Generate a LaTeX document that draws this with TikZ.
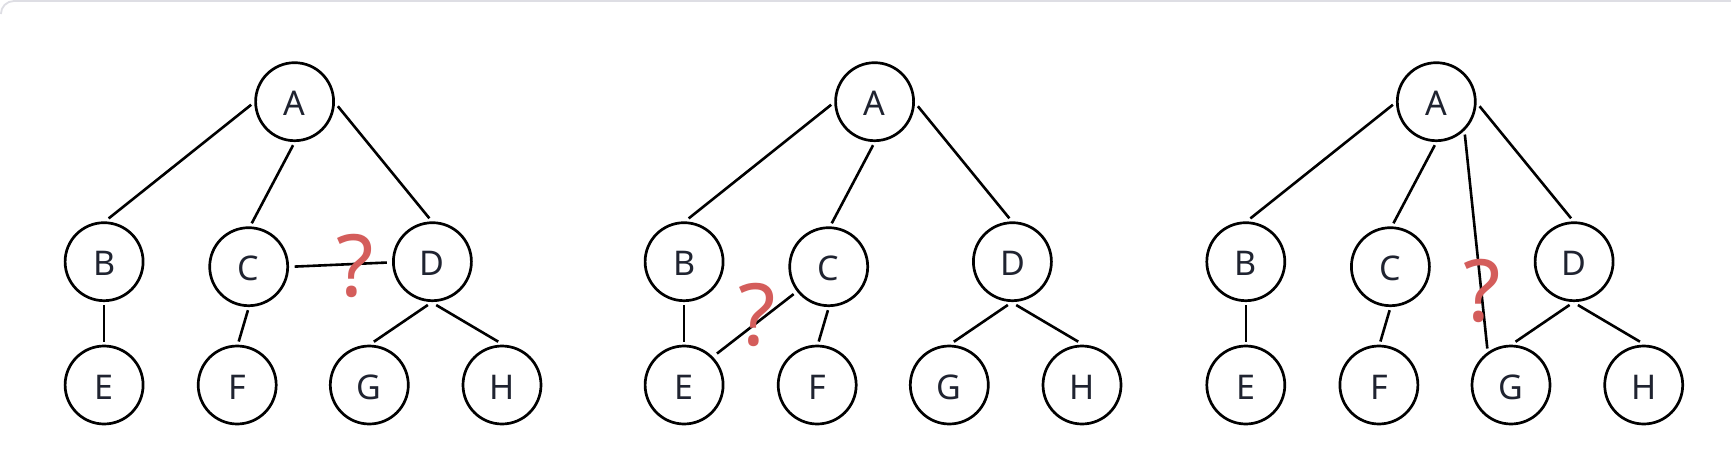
\documentclass[tikz,border=0pt]{standalone}
\usepackage{fontspec}
\setmainfont{Noto Sans}
\definecolor{ink}{HTML}{1F2330}
\definecolor{qred}{HTML}{D45D5B}
\definecolor{framegray}{HTML}{DEDEE4}
\newcommand{\treebase}{%
  \node[vert] (A) at (294.6,101.7) {A};
  \node[vert] (B) at (104.1,261.7) {B};
  \node[vert] (C) at (248.7,266.7) {C};
  \node[vert] (D) at (432.4,261.7) {D};
  \node[vert] (E) at (104.1,385) {E};
  \node[vert] (F) at (237.2,385) {F};
  \node[vert] (G) at (369.3,385) {G};
  \node[vert] (H) at (502,385) {H};
  \draw[edge] (A.184) -- (B.84);
  \draw[edge] (A.268) -- (C.86);
  \draw[edge] (A.354) -- (D.94);
  \draw[edge] (B.270) -- (E.90);
  \draw[edge] (C.269) -- (F.88);
  \draw[edge] (D.264) -- (G.84);
  \draw[edge] (D.275) -- (H.95);
}
\begin{document}
\begin{tikzpicture}[x=1pt,y=-1pt,
  vert/.style={circle,draw=black,line width=2.7pt,minimum size=78pt,inner sep=0pt,
    outer sep=4.5pt,text=ink,font=\fontsize{34}{34}\selectfont,text height=28.5pt,text depth=0pt},
  edge/.style={line width=2.6pt,draw=black},
  qmark/.style={text=qred,font=\fontsize{86}{86}\selectfont,inner sep=0pt}]
\useasboundingbox[fill=white] (0,0) rectangle (1731,452);
\draw[framegray,line width=1.8pt] (0.9,14) arc[start angle=180,end angle=270,radius=13] -- (1731,0.9);
% panel 1
\begin{scope}[name prefix=p1-]
  \treebase
  \draw[edge,shorten <=2.5pt,shorten >=2pt] (C.0) -- (D.181);
  \node[qmark] (q) at (355.5,265.5) {?};
\end{scope}
% panel 2
\begin{scope}[xshift=580pt,name prefix=p2-]
  \treebase
  \draw[edge,shorten <=1pt,shorten >=2pt] (C.218) -- (E.44);
  \node[qmark] (q) at (177,315.3) {?};
\end{scope}
% panel 3
\begin{scope}[xshift=1141.7pt,name prefix=p3-]
  \treebase
  \draw[edge] (A.311) -- (G.123);
  \node[qmark] (q) at (340.6,290.8) {?};
\end{scope}
\end{tikzpicture}
\end{document}
